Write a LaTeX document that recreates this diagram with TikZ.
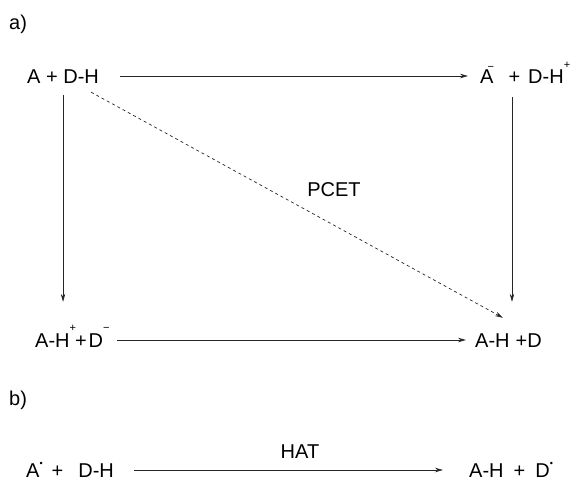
\documentclass[tikz,border=0pt]{standalone}
\usepackage{fontspec}
\setmainfont{Liberation Sans}
\usetikzlibrary{arrows.meta}
\newcommand\supr[2][14.5pt]{\raisebox{#1}{\fontsize{11}{11}\selectfont #2}}
\newcommand\rdot{\raisebox{11pt}{\fontsize{9}{9}\selectfont •}}
\begin{document}
\begin{tikzpicture}[x=1pt,y=-1pt,
  every node/.style={font=\fontsize{20}{24}\selectfont},
  chem/.style={anchor=base west,inner sep=0pt,text height=14pt,text depth=0pt},
  arr/.style={draw=black!85,line width=0.7pt,-{Stealth[length=8pt,width=4.5pt]}},
  darr/.style={arr,dashed,dash pattern=on 3pt off 3pt}]
\useasboundingbox (0,0) rectangle (574,479);
\node[anchor=base west,inner sep=0pt] (la) at (9,29) {a)};
\node[anchor=base west,inner sep=0pt] (lb) at (9,405) {b)};
\node[chem] (n1) at (27,83) {A + D-H};
\node[chem] (n2) at (480,83) {A\llap{\supr[13pt]{−}\hspace{-0.5pt}}\hspace{15pt}+\hspace{8pt}D-H\supr{+}};
\node[chem] (n3) at (35,347) {A-H\supr[16pt]{+}\hspace{-1pt}+\hspace{2pt}D\supr[16pt]{−}};
\node[chem] (n4) at (475,347) {A-H\hspace{6pt}+D};
\node[chem] (n5) at (26,477) {A\rdot\hspace{9pt}+\hspace{15pt}D-H};
\node[chem] (n6) at (469,477) {A-H\hspace{10pt}+\hspace{10pt}D\rdot};
\node (pcet) at (334,190) {PCET};
\node (hat) at (300,452) {HAT};
\draw[arr,shorten <=21pt,shorten >=12pt] (n1.east) -- (n2.west);
\draw[arr,shorten <=12pt,shorten >=31pt] (n1.south) -- (n1.south |- n3.north);
\draw[arr,shorten <=14pt,shorten >=31pt] (n2.south -| 512,0) -- (n4.north -| 512,0);
\draw[arr,shorten <=7pt,shorten >=9pt] (n3.east) -- (n4.west);
\draw[darr] ([xshift=-8pt,yshift=-9pt]n1.south east) -- ([xshift=28pt,yshift=15pt]n4.north west);
\draw[arr,shorten <=20pt,shorten >=26pt] (n5.east) -- (n6.west);
\end{tikzpicture}
\end{document}
